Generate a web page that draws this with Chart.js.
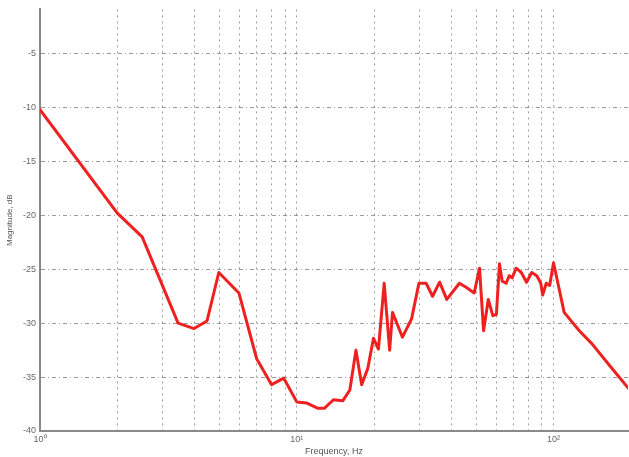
<!DOCTYPE html>
<html>
<head>
<meta charset="utf-8">
<script src="https://cdn.jsdelivr.net/npm/chart.js@4/dist/chart.umd.min.js"></script>
<style>
  html, body { margin: 0; padding: 0; background: #fff; }
  #wrap { width: 629px; height: 457px; }
</style>
</head>
<body>
<div id="wrap"><canvas id="magChart" width="629" height="457"></canvas></div>
<script>
// frequency (Hz) and magnitude (dB)
let freqs = [1, 2, 2.5, 3.45, 3.98, 4.47, 4.97, 5.95, 6.98, 7.98, 8.9, 10, 10.9, 12.1, 12.8, 13.9, 15.1, 16.1,
  17.0, 17.9, 18.9, 19.9, 20.8, 21.9, 23.0, 23.6, 25.8, 28.0, 29.9, 31.9, 33.8, 36.0, 38.4, 43.0, 45.8,
  49.1, 51.5, 53.4, 55.7, 58.0, 59.9, 61.6, 63.1, 65.4, 67.2, 69.0, 71.5, 74.9, 78.5, 82.2, 86.1, 89.2,
  90.7, 93.7, 96.6, 100, 110, 126, 141, 165, 195];
let mags = [-10.2, -19.8, -22, -30, -30.5, -29.8, -25.3, -27.2, -33.3, -35.7, -35.1, -37.3, -37.4, -37.9, -37.9, -37.1, -37.2, -36.2,
  -32.5, -35.7, -34.2, -31.4, -32.4, -26.3, -32.5, -29, -31.3, -29.6, -26.3, -26.3, -27.5, -26.2, -27.8, -26.3, -26.7,
  -27.2, -24.9, -30.7, -27.8, -29.3, -29.2, -24.5, -26.1, -26.3, -25.6, -25.8, -24.9, -25.3, -26.2, -25.3, -25.6, -26.3,
  -27.4, -26.3, -26.5, -24.4, -29, -30.7, -31.9, -33.9, -36];

let xGrid = [1, 2, 3, 4, 5, 6, 7, 8, 9, 10, 20, 30, 40, 50, 60, 70, 80, 90, 100];
let xLabels = { 1: '10\u2070', 10: '10\u00b9', 100: '10\u00b2' };
let yTicks = [-40, -35, -30, -25, -20, -15, -10, -5];

let points = [];
for (let i = 0; i < freqs.length; i++) {
    points.push({ x: freqs[i], y: mags[i] });
}

const bgPlugin = {
    id: 'bg',
    beforeDraw(chart) {
        const c = chart.ctx;
        c.save();
        c.fillStyle = '#fff';
        c.fillRect(0, 0, chart.width, chart.height);
        c.restore();
    }
};

let ctx = document.getElementById('magChart').getContext('2d');
let magChart = new Chart(ctx, {
    type: 'line',
    data: {
        datasets: [{
            data: points,
            borderColor: 'rgb(238,32,32)',
            borderWidth: 3,
            borderJoinStyle: 'round',
            borderCapStyle: 'round',
            pointRadius: 0,
            tension: 0,
            fill: false
        }]
    },
    options: {
        responsive: false,
        animation: false,
        layout: { padding: { top: 8, right: 1, left: 5, bottom: 0 } },
        plugins: { legend: { display: false }, tooltip: { enabled: false } },
        scales: {
            x: {
                type: 'logarithmic',
                min: 1,
                max: 195,
                afterBuildTicks(scale) {
                    scale.ticks = xGrid.map(v => ({ value: v }));
                },
                afterFit(scale) { scale.height = 26; },
                ticks: {
                    autoSkip: false,
                    maxRotation: 0,
                    padding: 3,
                    color: '#666',
                    font: { family: 'Liberation Sans', size: 9 },
                    callback: v => xLabels[v] || ''
                },
                grid: { color: 'rgba(90,90,90,0.6)', lineWidth: 1, drawTicks: false },
                border: { display: true, color: '#8a8a8a', width: 2, dash: [2, 4] },
                title: {
                    display: true,
                    text: 'Frequency, Hz',
                    color: '#555',
                    font: { family: 'Liberation Sans', size: 9 },
                    padding: { top: 0, bottom: 0 }
                }
            },
            y: {
                min: -40,
                max: -0.9,
                afterBuildTicks(scale) {
                    scale.ticks = yTicks.map(v => ({ value: v }));
                },
                afterFit(scale) { scale.width = 35; },
                ticks: {
                    padding: 4,
                    color: '#666',
                    font: { family: 'Liberation Sans', size: 9 }
                },
                grid: { color: 'rgba(90,90,90,0.6)', lineWidth: 1, drawTicks: false },
                border: { display: true, color: '#8a8a8a', width: 2, dash: [4, 3, 1, 3] },
                title: {
                    display: true,
                    text: 'Magnitude, dB',
                    color: '#555',
                    font: { family: 'Liberation Sans', size: 8 },
                    padding: { top: 0, bottom: 2 }
                }
            }
        }
    },
    plugins: [bgPlugin]
});
</script>
</body>
</html>
